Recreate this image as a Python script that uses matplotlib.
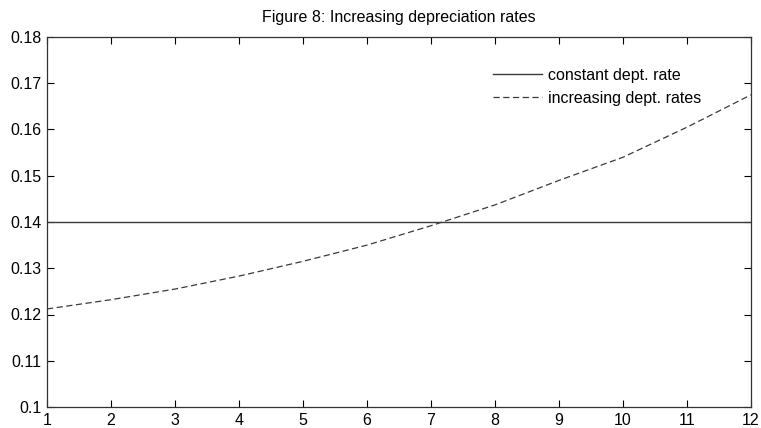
import numpy as np
import matplotlib
matplotlib.use('Agg')
import matplotlib.pyplot as plt

plt.rcParams['font.family'] = ['Liberation Sans', 'DejaVu Sans']
plt.rcParams['lines.scale_dashes'] = False

# data
years = [1, 2, 3, 4, 5, 6, 7, 8, 9, 10, 11, 12]
constant_rate = [0.14] * 12
increasing_rate = [0.1212, 0.1232, 0.1255, 0.1283, 0.1315, 0.1350,
                   0.1392, 0.1437, 0.1490, 0.1540, 0.1605, 0.1675]
y_ticks = [0.1, 0.11, 0.12, 0.13, 0.14, 0.15, 0.16, 0.17, 0.18]
y_labels = ['0.1', '0.11', '0.12', '0.13', '0.14', '0.15', '0.16', '0.17', '0.18']

fig = plt.figure(figsize=(7.61, 4.28), dpi=100)
ax = fig.add_axes([47 / 761, 21 / 428, 704 / 761, 370 / 428])

ax.plot(years, constant_rate, color='#3a3a3a', lw=1.0, ls='-', label='constant dept. rate')
ax.plot(years, increasing_rate, color='#3a3a3a', lw=0.9, ls=(0, (4.5, 2.5)),
        label='increasing dept. rates')

ax.set_xlim(1, 12)
ax.set_ylim(0.1, 0.18)
ax.set_xticks(years)
ax.set_yticks(y_ticks)
ax.set_yticklabels(y_labels)
ax.tick_params(direction='in', length=5, width=0.8, top=True, right=True,
               labelsize=11.5, colors='black')
ax.tick_params(axis='x', pad=4)
ax.tick_params(axis='y', pad=4)
for s in ax.spines.values():
    s.set_linewidth(0.9)
    s.set_color('#333333')

ax.set_title('Figure 8: Increasing depreciation rates', fontsize=11.5, pad=10.5)

ax.legend(loc='upper left', bbox_to_anchor=(0.634, 0.917), frameon=False,
          fontsize=11.5, handlelength=3.07, handletextpad=0.38,
          borderpad=0, borderaxespad=0, labelspacing=0.52)

fig.savefig('out.png', dpi=100)
